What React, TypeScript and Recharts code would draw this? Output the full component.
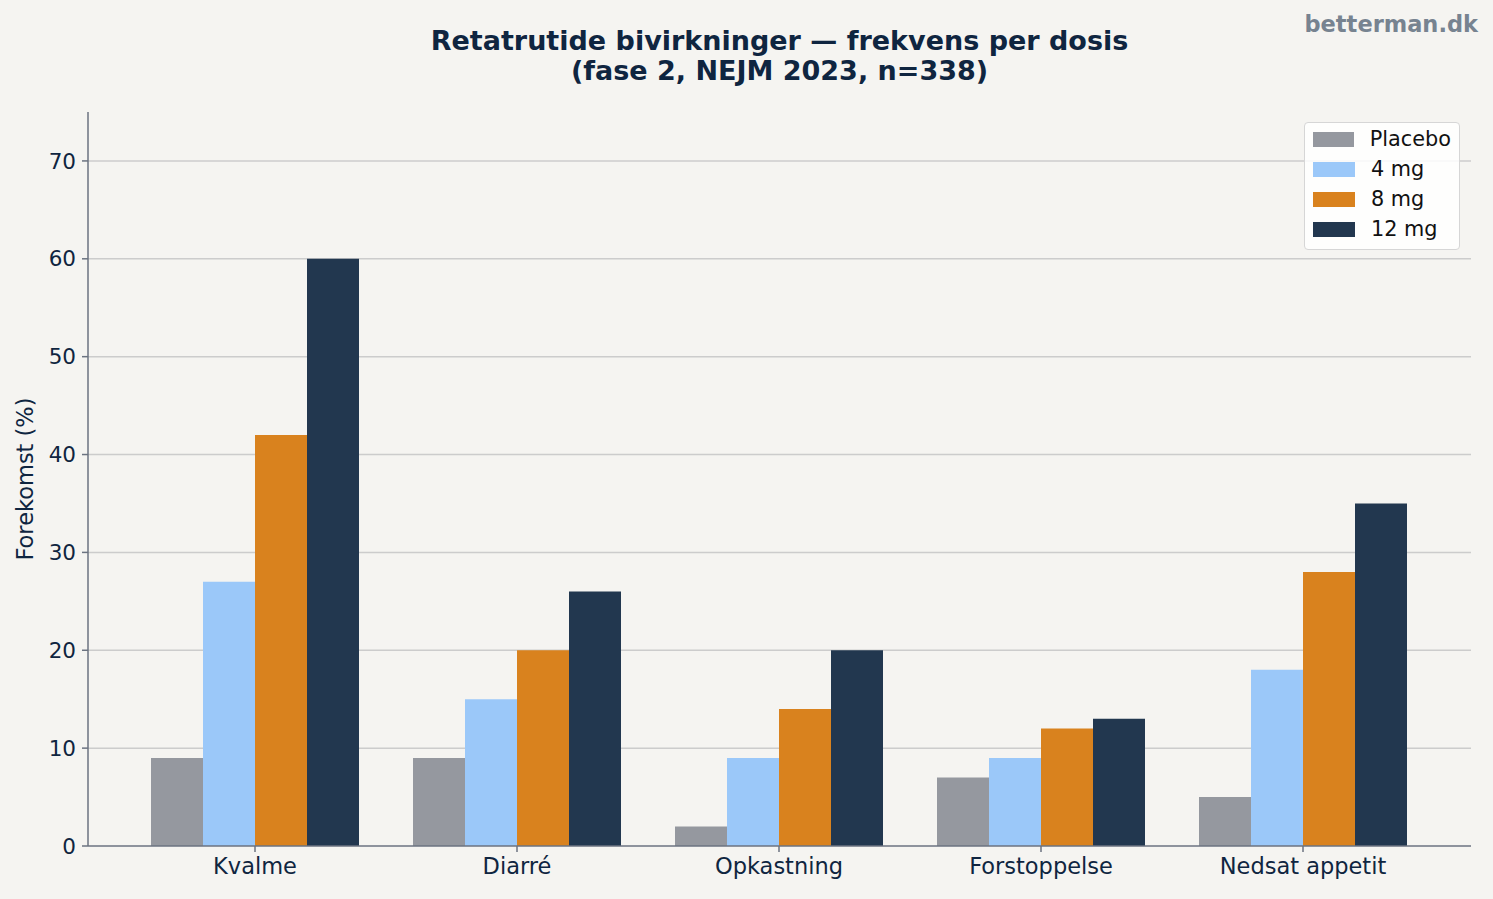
import { BarChart, Bar, XAxis, YAxis, CartesianGrid, Label } from "recharts";

const categories = ["Kvalme", "Diarré", "Opkastning", "Forstoppelse", "Nedsat appetit"];
const placebo = [9, 9, 2, 7, 5];
const mg4 = [27, 15, 9, 9, 18];
const mg8 = [42, 20, 14, 12, 28];
const mg12 = [60, 26, 20, 13, 35];
const yTicks = [0, 10, 20, 30, 40, 50, 60, 70];

const series = [
  { key: "placebo", label: "Placebo", color: "#95989f" },
  { key: "mg4", label: "4 mg", color: "#9bc8f9" },
  { key: "mg8", label: "8 mg", color: "#d9821e" },
  { key: "mg12", label: "12 mg", color: "#22374f" },
];

const data = categories.map((name, i) => ({
  name,
  placebo: placebo[i],
  mg4: mg4[i],
  mg8: mg8[i],
  mg12: mg12[i],
}));

const FONT = "'DejaVu Sans', sans-serif";
const DARK = "#0f2540";
const AXIS = "#6b7380";

export default function App() {
  return (
    <div
      style={{
        position: "absolute",
        left: 0,
        top: 0,
        width: 1493,
        height: 899,
        background: "#f5f4f1",
        fontFamily: FONT,
      }}
    >
      <div
        style={{
          position: "absolute",
          left: 88,
          width: 1383,
          top: 26,
          textAlign: "center",
          fontWeight: "bold",
          fontSize: 27,
          lineHeight: "30px",
          color: DARK,
        }}
      >
        Retatrutide bivirkninger — frekvens per dosis
        <br />
        (fase 2, NEJM 2023, n=338)
      </div>
      <div
        style={{
          position: "absolute",
          right: 15,
          top: 11,
          fontWeight: "bold",
          fontSize: 22.5,
          color: "#778390",
        }}
      >
        betterman.dk
      </div>
      <BarChart
        width={1493}
        height={899}
        data={data}
        margin={{ top: 112, right: 22, bottom: 0, left: 0 }}
        barCategoryGap={27}
        barGap={0}
      >
        <CartesianGrid
          vertical={false}
          horizontalValues={yTicks.filter((t) => t > 0)}
          stroke="#cccccc"
          strokeWidth={1.5}
        />
        <XAxis
          dataKey="name"
          height={53}
          padding={{ left: 36, right: 37 }}
          stroke={AXIS}
          strokeWidth={1.5}
          tickSize={6}
          tickMargin={6}
          tick={{ fill: DARK, fontSize: 22.5, fontFamily: FONT }}
        />
        <YAxis
          width={88}
          domain={[0, 75]}
          ticks={yTicks}
          interval={0}
          allowDataOverflow
          stroke={AXIS}
          strokeWidth={1.5}
          tickSize={6}
          tickMargin={6}
          tick={{ fill: DARK, fontSize: 21.5, fontFamily: FONT }}
        >
          <Label
            value="Forekomst (%)"
            angle={-90}
            position="insideLeft"
            offset={25}
            style={{ fill: DARK, fontSize: 22.5, fontFamily: FONT, textAnchor: "middle" }}
          />
        </YAxis>
        {series.map((s) => (
          <Bar key={s.key} dataKey={s.key} name={s.label} fill={s.color} isAnimationActive={false} />
        ))}
      </BarChart>
      <div
        style={{
          position: "absolute",
          left: 1304,
          top: 122,
          width: 156,
          height: 128,
          background: "rgba(255,255,255,0.85)",
          border: "1px solid #d6d6d6",
          borderRadius: 4,
          padding: "1px 8px 3px 8px",
          fontSize: 20.8,
          color: "#111",
          boxSizing: "border-box",
        }}
      >
        {series.map((s) => (
          <div key={s.key} style={{ display: "flex", alignItems: "center", height: 30 }}>
            <span style={{ display: "inline-block", width: 42, height: 15, background: s.color, marginRight: 16 }} />
            <span>{s.label}</span>
          </div>
        ))}
      </div>
    </div>
  );
}
